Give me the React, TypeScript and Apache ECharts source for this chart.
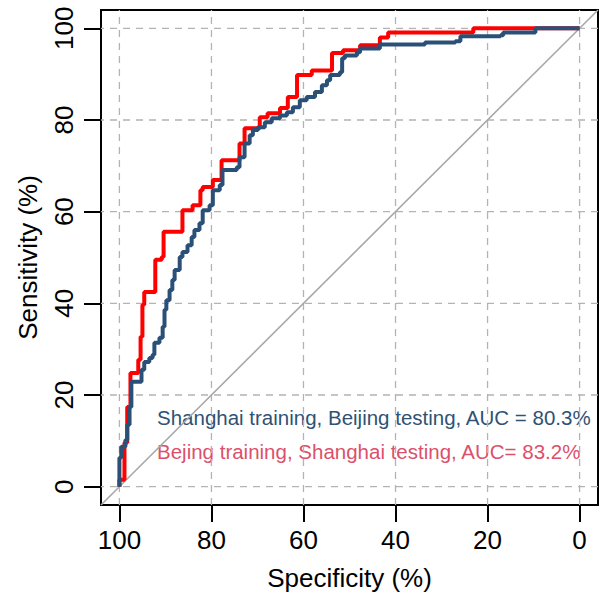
import React, { useEffect, useRef } from "react";
import * as echarts from "echarts";

const AXIS_MIN = -4;
const AXIS_MAX = 104;
const TICKS = [0, 20, 40, 60, 80, 100];

// [specificity, sensitivity]
const redCurve: number[][] = [
  [100, 0], [100, 1.5], [98.9, 1.5], [98.9, 9.6], [98.3, 9.6], [98.3, 17.4], [97.6, 17.4],
  [97.6, 24.8], [96.5, 24.8], [95.9, 27.7], [95.4, 32.7], [95.0, 39.7], [94.6, 42.5],
  [93.5, 42.5], [92.2, 49.5], [90.8, 50.1], [90.4, 55.6], [86.3, 55.6], [86.3, 60.3],
  [84.1, 61.4], [82.6, 61.4], [82.4, 64.7], [81.9, 65.4], [80.0, 65.4], [79.7, 66.9],
  [77.8, 66.9], [77.8, 71.2], [74.9, 71.2], [73.9, 74.9], [72.8, 78.2], [69.9, 78.2],
  [69.5, 80.6], [67.8, 80.6], [67.8, 81.5], [65.6, 81.5], [65.1, 82.6], [64.1, 82.6],
  [63.4, 85.0], [61.7, 85.0], [61.4, 88.7], [61.4, 89.8], [58.2, 89.8], [58.2, 90.8],
  [54.2, 90.8], [53.8, 94.6], [51.6, 94.6], [51.4, 95.2], [47.7, 95.2], [47.7, 96.3],
  [43.8, 96.3], [43.4, 98.0], [41.6, 98.0], [41.6, 99.1], [23.1, 99.1], [23.1, 100], [0, 100],
];

const blueCurve: number[][] = [
  [100, 0], [100, 6.3], [99.6, 8.7], [98.7, 10.2], [98.3, 13.5], [97.8, 17.4], [97.4, 22.9],
  [95.6, 22.9], [95.2, 25.5], [94.6, 27.2], [93.5, 28.1], [92.8, 28.8], [92.4, 31.4],
  [91.3, 32.5], [90.6, 34.9], [90.2, 38.6], [89.8, 40.7], [89.1, 42.9], [88.5, 45.1],
  [88.0, 47.3], [86.9, 50.1], [86.3, 51.2], [85.2, 52.7], [84.3, 54.5], [83.7, 56.0],
  [82.6, 57.5], [81.9, 60.3], [80.4, 61.4], [79.7, 64.7], [78.2, 65.8], [77.6, 69.1],
  [74.5, 69.7], [73.9, 71.9], [72.8, 74.9], [71.7, 76.7], [71.0, 77.8], [69.9, 78.4],
  [68.4, 79.5], [66.9, 80.4], [65.1, 81.0], [63.6, 81.7], [62.3, 82.8], [60.8, 84.3],
  [59.3, 85.0], [57.5, 86.1], [56.0, 87.6], [54.9, 88.7], [54.2, 89.8], [52.1, 90.4],
  [51.6, 93.5], [51.0, 94.1], [48.4, 94.8], [47.7, 95.6], [44.0, 95.6], [43.4, 96.5],
  [34.0, 96.5], [33.6, 96.9], [27.0, 97.2], [25.9, 98.3], [17.2, 98.5], [16.6, 99.1],
  [10.0, 99.1], [9.6, 100], [0, 100],
];

const LEGEND_BLUE = "Shanghai training, Beijing testing, AUC = 80.3%";
const LEGEND_RED = "Bejing training, Shanghai testing, AUC= 83.2%";

const FONT = "Liberation Sans, Arial, sans-serif";

export default function App() {
  const ref = useRef<HTMLDivElement>(null);
  useEffect(() => {
    if (!ref.current) return;
    const chart = echarts.init(ref.current, null, { renderer: "svg" });
    const gridLineStyle = { color: "#b3b3b3", width: 1.3, type: [7, 6] as any };
    const axisCommon = {
      type: "value" as const,
      min: AXIS_MIN,
      max: AXIS_MAX,
      splitLine: { show: false },
      axisLine: { show: false, onZero: false },
      axisTick: {
        show: true,
        customValues: TICKS,
        length: 17,
        lineStyle: { color: "#000", width: 2 },
      },
      axisLabel: {
        show: true,
        customValues: TICKS,
        fontSize: 26,
        color: "#000",
        fontFamily: FONT,
      },
      nameLocation: "middle" as const,
      nameTextStyle: { fontSize: 26, color: "#000", fontFamily: FONT },
    };
    const gridSeries = [
      ...TICKS.map((v) => [
        [v, AXIS_MIN],
        [v, AXIS_MAX],
      ]),
      ...TICKS.map((v) => [
        [AXIS_MIN, v],
        [AXIS_MAX, v],
      ]),
    ].map((data) => ({
      type: "line",
      data,
      showSymbol: false,
      silent: true,
      lineStyle: gridLineStyle,
    }));
    chart.setOption({
      animation: false,
      backgroundColor: "#fff",
      grid: {
        left: 101,
        top: 10,
        right: 1,
        bottom: 96,
        show: true,
        borderColor: "#000",
        borderWidth: 2,
        backgroundColor: "transparent",
      },
      xAxis: {
        ...axisCommon,
        inverse: true,
        name: "Specificity (%)",
        nameGap: 60,
        axisLabel: { ...axisCommon.axisLabel, margin: 22 },
      },
      yAxis: {
        ...axisCommon,
        name: "Sensitivity (%)",
        nameGap: 60,
        axisLabel: { ...axisCommon.axisLabel, margin: 24, rotate: 90 },
      },
      series: [
        ...gridSeries,
        {
          type: "line",
          data: [
            [AXIS_MAX, 100 - AXIS_MAX],
            [100 - AXIS_MAX, AXIS_MAX],
          ],
          showSymbol: false,
          lineStyle: { color: "#a8a8a8", width: 1.6 },
          silent: true,
        },
        {
          type: "line",
          data: redCurve,
          step: "end",
          showSymbol: false,
          lineStyle: { color: "#ff0000", width: 4 },
          silent: true,
        },
        {
          type: "line",
          data: blueCurve,
          step: "end",
          showSymbol: false,
          lineStyle: { color: "#2b5078", width: 4 },
          silent: true,
        },
      ],
      graphic: [
        {
          type: "text",
          left: 157,
          top: 407,
          style: { text: LEGEND_BLUE, fontSize: 20.5, fill: "#2f5275", fontFamily: FONT },
        },
        {
          type: "text",
          left: 157,
          top: 441,
          style: { text: LEGEND_RED, fontSize: 20.5, fill: "#dc506c", fontFamily: FONT },
        },
      ],
    });
    return () => chart.dispose();
  }, []);
  return <div ref={ref} style={{ width: 599, height: 601, position: "absolute", left: 0, top: 0 }} />;
}
